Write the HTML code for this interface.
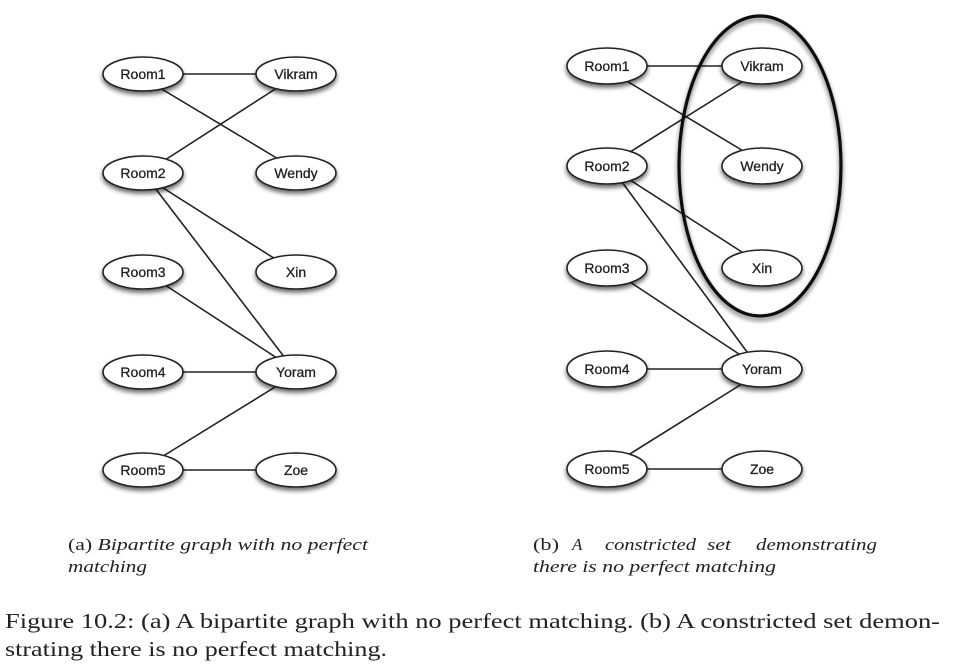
<!DOCTYPE html>
<html><head><meta charset="utf-8"><style>
body{margin:0;background:#fff;width:958px;height:666px;overflow:hidden}
svg{display:block}
</style></head><body>
<svg width="958" height="666" viewBox="0 0 958 666" xmlns="http://www.w3.org/2000/svg">
<defs>
<filter id="sh" x="-30%" y="-40%" width="160%" height="200%">
<feGaussianBlur in="SourceAlpha" stdDeviation="2.5"/><feOffset dx="0" dy="3"/>
<feComponentTransfer><feFuncA type="linear" slope="0.6"/></feComponentTransfer>
<feMerge><feMergeNode/><feMergeNode in="SourceGraphic"/></feMerge></filter>
</defs>
<g stroke="#222" stroke-width="1.6">
<line x1="143" y1="74" x2="296" y2="74"/>
<line x1="160" y1="88" x2="280" y2="160"/>
<line x1="165" y1="160" x2="280" y2="86"/>
<line x1="160" y1="186" x2="280" y2="262"/>
<line x1="155" y1="188" x2="285" y2="358"/>
<line x1="165" y1="285" x2="280" y2="360"/>
<line x1="143" y1="372" x2="296" y2="372"/>
<line x1="160" y1="458" x2="280" y2="384"/>
<line x1="143" y1="470" x2="296" y2="470"/>
<line x1="607" y1="66" x2="762" y2="66"/>
<line x1="625" y1="80" x2="745" y2="152"/>
<line x1="630" y1="152" x2="745" y2="80"/>
<line x1="630" y1="180" x2="745" y2="254"/>
<line x1="622" y1="182" x2="750" y2="356"/>
<line x1="630" y1="282" x2="745" y2="358"/>
<line x1="607" y1="369" x2="762" y2="369"/>
<line x1="625" y1="457" x2="745" y2="382"/>
<line x1="607" y1="469" x2="762" y2="469"/>
</g>
<ellipse cx="760" cy="166" rx="81" ry="150" fill="none" stroke="#111" stroke-width="3.2" filter="url(#sh)"/>
<g fill="#fff" stroke="#222" stroke-width="1.6" filter="url(#sh)">
<ellipse cx="143" cy="74" rx="40" ry="17"/><ellipse cx="296" cy="74" rx="40" ry="17"/>
<ellipse cx="143" cy="173" rx="40" ry="17"/><ellipse cx="296" cy="173" rx="40" ry="17"/>
<ellipse cx="143" cy="272" rx="40" ry="17"/><ellipse cx="296" cy="272" rx="40" ry="17"/>
<ellipse cx="143" cy="372" rx="40" ry="17"/><ellipse cx="296" cy="372" rx="40" ry="17"/>
<ellipse cx="143" cy="470" rx="40" ry="17"/><ellipse cx="296" cy="470" rx="40" ry="17"/>
<ellipse cx="607" cy="66" rx="40" ry="18"/><ellipse cx="762" cy="66" rx="40" ry="18"/>
<ellipse cx="607" cy="166" rx="40" ry="18"/><ellipse cx="762" cy="166" rx="40" ry="18"/>
<ellipse cx="607" cy="268" rx="40" ry="18"/><ellipse cx="762" cy="268" rx="40" ry="18"/>
<ellipse cx="607" cy="369" rx="40" ry="18"/><ellipse cx="762" cy="369" rx="40" ry="18"/>
<ellipse cx="607" cy="469" rx="40" ry="18"/><ellipse cx="762" cy="469" rx="40" ry="18"/>
</g>
<g font-family="Liberation Sans, sans-serif" font-size="14" fill="#222" stroke="#222" stroke-width="0.3" text-anchor="middle">
<text x="143" y="79">Room1</text><text x="296" y="79">Vikram</text>
<text x="143" y="178">Room2</text><text x="296" y="178">Wendy</text>
<text x="143" y="277">Room3</text><text x="296" y="277">Xin</text>
<text x="143" y="377">Room4</text><text x="296" y="377">Yoram</text>
<text x="143" y="475">Room5</text><text x="296" y="475">Zoe</text>
<text x="607" y="71">Room1</text><text x="762" y="71">Vikram</text>
<text x="607" y="171">Room2</text><text x="762" y="171">Wendy</text>
<text x="607" y="273">Room3</text><text x="762" y="273">Xin</text>
<text x="607" y="374">Room4</text><text x="762" y="374">Yoram</text>
<text x="607" y="474">Room5</text><text x="762" y="474">Zoe</text>
</g>
<g font-family="Liberation Serif, serif" fill="#222" font-size="17">
<text x="68" y="550" textLength="300" lengthAdjust="spacingAndGlyphs">(a) <tspan font-style="italic">Bipartite graph with no perfect</tspan></text>
<text x="68" y="572" font-style="italic" textLength="79" lengthAdjust="spacingAndGlyphs">matching</text>
<text x="533" y="550" textLength="26" lengthAdjust="spacingAndGlyphs">(b)</text>
<text x="572" y="550" font-style="italic">A</text>
<text x="605" y="550" font-style="italic" textLength="91" lengthAdjust="spacingAndGlyphs">constricted</text>
<text x="707" y="550" font-style="italic" textLength="24" lengthAdjust="spacingAndGlyphs">set</text>
<text x="756" y="550" font-style="italic" textLength="121" lengthAdjust="spacingAndGlyphs">demonstrating</text>
<text x="533" y="572" font-style="italic" textLength="243" lengthAdjust="spacingAndGlyphs">there is no perfect matching</text>
<text x="5" y="628" font-size="21" textLength="935" lengthAdjust="spacingAndGlyphs">Figure 10.2: (a) A bipartite graph with no perfect matching. (b) A constricted set demon-</text>
<text x="5" y="656" font-size="21" textLength="382" lengthAdjust="spacingAndGlyphs">strating there is no perfect matching.</text>
</g>
</svg>
</body></html>
